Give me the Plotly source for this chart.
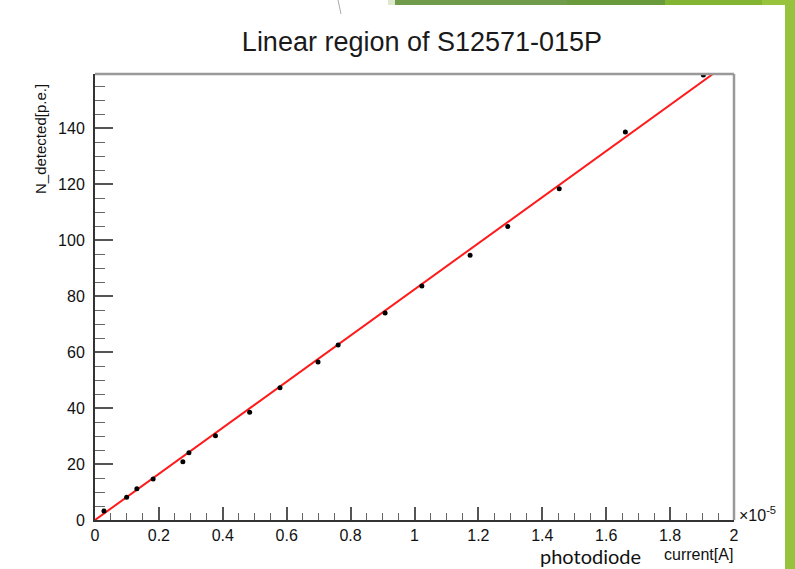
import plotly.graph_objects as go

# ---- data (x in units of 1e-5 A) ----
current_x = [0.028, 0.099, 0.131, 0.182, 0.275, 0.294, 0.377, 0.484, 0.579,
             0.698, 0.761, 0.908, 1.023, 1.174, 1.292, 1.453, 1.660, 1.904]
n_detected = [3.2, 8.1, 11.2, 14.6, 20.8, 24.0, 30.1, 38.5, 47.2,
              56.4, 62.5, 73.9, 83.6, 94.6, 104.8, 118.3, 138.6, 158.9]
fit_x = [0.0, 1.934]
fit_y = [0.0, 159.3]
x_ticks = [0, 0.2, 0.4, 0.6, 0.8, 1, 1.2, 1.4, 1.6, 1.8, 2]
x_labels = ["0", "0.2", "0.4", "0.6", "0.8", "1", "1.2", "1.4", "1.6", "1.8", "2"]
y_ticks = [0, 20, 40, 60, 80, 100, 120, 140]
y_labels = ["0", "20", "40", "60", "80", "100", "120", "140"]

W, H = 795, 569
L, R, T, B = 95, 734, 74, 520


def px(x):
    return (x - L) / (R - L)


def py(y):
    return (B - y) / (B - T)


FONT = "Liberation Sans, Arial, sans-serif"

fig = go.Figure()
fig.add_trace(go.Scatter(x=fit_x, y=fit_y, mode="lines",
                         line=dict(color="#ff1a1a", width=2), showlegend=False,
                         hoverinfo="skip"))
fig.add_trace(go.Scatter(x=current_x, y=n_detected, mode="markers",
                         marker=dict(color="black", size=5), showlegend=False))

fig.update_layout(
    width=W, height=H,
    margin=dict(l=L, r=W - R, t=T, b=H - B, pad=0),
    paper_bgcolor="white", plot_bgcolor="white",
    font=dict(family=FONT, color="black"),
    title=dict(text="Linear region of S12571-015P", x=422 / W, xanchor="center",
               y=1 - 42 / H, yanchor="middle", yref="container",
               font=dict(family=FONT, size=27, color="#1a1a1a")),
)
fig.update_xaxes(range=[0, 2], tickvals=x_ticks, ticktext=x_labels,
                 showgrid=False, zeroline=False,
                 showline=True, linecolor="#333", linewidth=2,
                 ticks="inside", ticklen=13, tickcolor="#555", tickwidth=1.5,
                 minor=dict(dtick=0.05, ticks="inside", ticklen=7,
                            tickcolor="#666", tickwidth=1.2),
                 tickfont=dict(size=16, color="#111"), ticklabelstandoff=0)
fig.update_yaxes(range=[0, 159.3], tickvals=y_ticks, ticktext=y_labels,
                 showgrid=False, zeroline=False,
                 showline=True, linecolor="#333", linewidth=2,
                 ticks="inside", ticklen=18, tickcolor="#555", tickwidth=1.5,
                 minor=dict(dtick=5, ticks="inside", ticklen=10,
                            tickcolor="#666", tickwidth=1.2),
                 tickfont=dict(size=16, color="#111"), ticklabelstandoff=5)

shapes = []
# frame top / right (gray)
shapes.append(dict(type="line", xref="paper", yref="paper", x0=0, x1=1, y0=1, y1=1,
                   line=dict(color="#999", width=2.5)))
shapes.append(dict(type="line", xref="paper", yref="paper", x0=1, x1=1, y0=0, y1=1,
                   line=dict(color="#999", width=2.5)))
# slide decorations
band = [(388, 395, "#dde8cc"), (395, 567, "#6f9b4b"), (567, 665, "#699a3c"),
        (665, 762, "#83b432"), (762, 795, "#97c43c")]
for a, b, c in band:
    shapes.append(dict(type="rect", xref="paper", yref="paper", x0=px(a), x1=px(b),
                       y0=py(5), y1=py(0), fillcolor=c, line=dict(width=0)))
shapes.append(dict(type="line", xref="paper", yref="paper", x0=px(338), x1=px(341),
                   y0=py(0), y1=py(14), line=dict(color="#aaa", width=1)))
fig.update_layout(shapes=shapes)

ann = [
    dict(text="N_detected[p.e.]", x=px(40), y=py(82), xanchor="center", yanchor="top",
         textangle=-90, font=dict(size=15, color="#111")),
    dict(text="photodiode", x=px(538), y=py(556), xanchor="left", yanchor="middle",
         font=dict(size=20, color="#111", family="Lato, Liberation Sans, sans-serif")),
    dict(text="current[A]", x=px(735), y=py(554), xanchor="right", yanchor="middle",
         font=dict(size=16, color="#111")),
    dict(text="×10<sup>-5</sup>", x=px(737), y=py(514), xanchor="left", yanchor="middle",
         font=dict(size=16, color="#111")),
]
for a in ann:
    a.update(xref="paper", yref="paper", showarrow=False)
fig.update_layout(annotations=ann)

# right green bar drawn last
fig.add_shape(type="rect", xref="paper", yref="paper", x0=px(785), x1=px(795),
              y0=py(569), y1=py(0), fillcolor="#96c33b", line=dict(width=0), layer="above")

fig.write_html("out.html")
